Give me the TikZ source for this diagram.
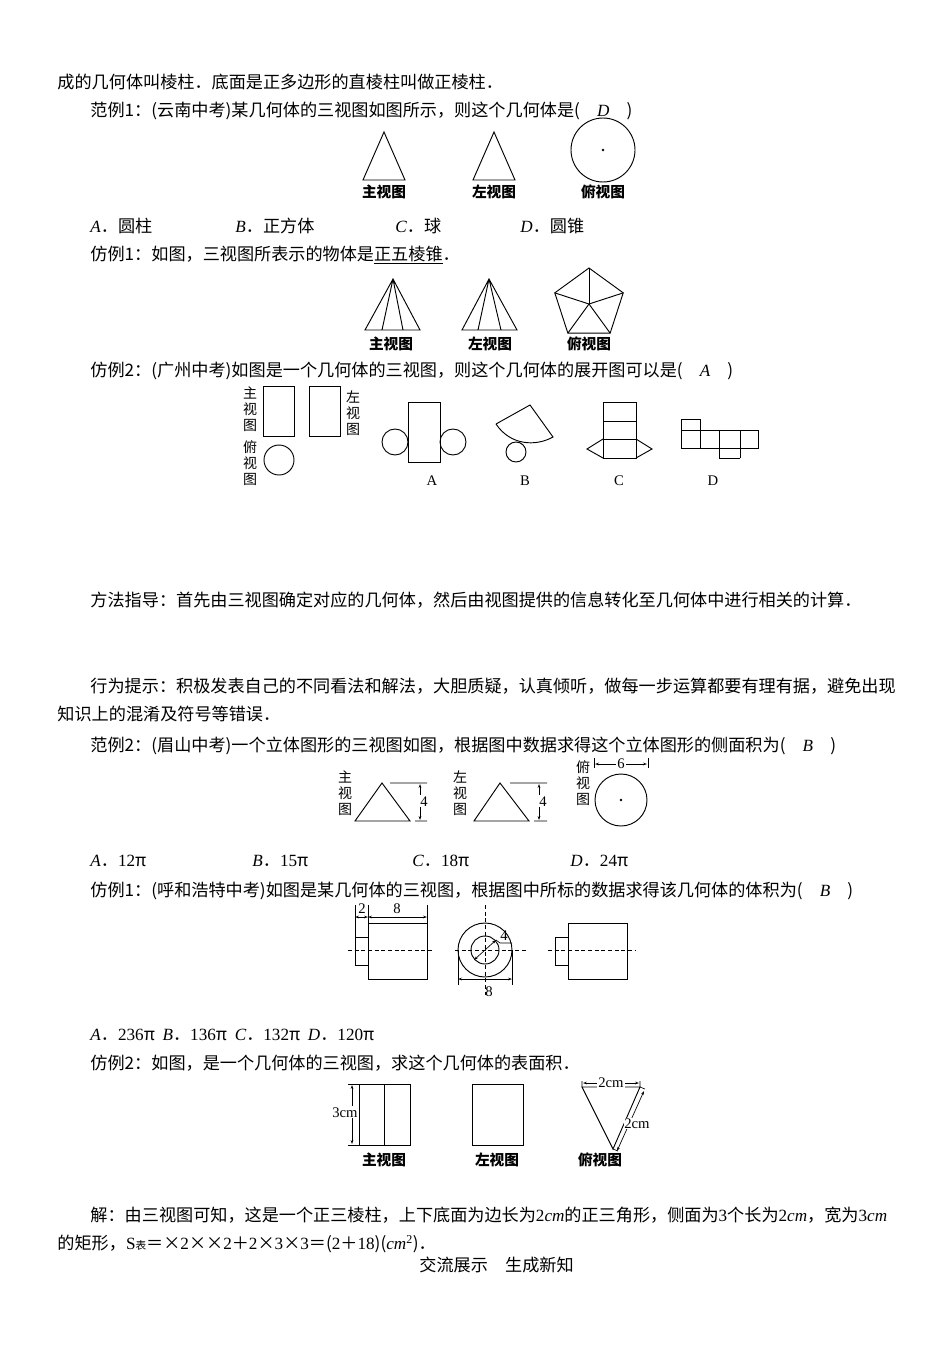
\documentclass[tikz,border=0pt]{standalone}
\usepackage{fontspec}
\setmainfont{Liberation Serif}
\newfontfamily\cjk{Noto Sans CJK SC}
\usetikzlibrary{arrows.meta}
\newcommand\en[1]{{\rmfamily #1}}
\newcommand\ei[1]{{\rmfamily\itshape #1}}
\begin{document}
\begin{tikzpicture}[x=0.75pt,y=-0.75pt,line width=0.7pt,
  t/.style={anchor=base west,inner sep=0,yshift=-4.5pt,font=\cjk\fontsize{12.85}{15}\selectfont},
  l/.style={anchor=base,inner sep=0,font=\cjk\fontsize{11}{13}\selectfont\bfseries},
  v/.style={anchor=north,inner sep=0,align=center,font=\cjk\fontsize{10.5}{12}\selectfont},
  n/.style={anchor=base,inner sep=0,font=\rmfamily\fontsize{11}{13}\selectfont},
  dim/.style={line width=0.5pt,{Stealth[length=3pt,width=2pt]}-{Stealth[length=3pt,width=2pt]}},
  cl/.style={line width=0.5pt,dash pattern=on 3pt off 2pt}]
\useasboundingbox (0,0) rectangle (950,1346);
% text lines
\node[t] (t1) at (57,82) {成的几何体叫棱柱．底面是正多边形的直棱柱叫做正棱柱．};
\node[t] (t2) at (90,110) {范例1：(云南中考)某几何体的三视图如图所示，则这个几何体是(\quad\ei{D}\quad)};
\node[t] (a1) at (90,226) {\ei{A}．圆柱};
\node[t] (b1) at (235,226) {\ei{B}．正方体};
\node[t] (c1) at (395,226) {\ei{C}．球};
\node[t] (d1) at (520,226) {\ei{D}．圆锥};
\node[t] (t3) at (90,254) {仿例1：如图，三视图所表示的物体是\underline{正五棱锥}．};
\node[t] (t4) at (90,370) {仿例2：(广州中考)如图是一个几何体的三视图，则这个几何体的展开图可以是(\quad\ei{A}\quad)};
\node[t] (t5) at (90,600) {方法指导：首先由三视图确定对应的几何体，然后由视图提供的信息转化至几何体中进行相关的计算．};
\node[t] (t6) at (90,686) {行为提示：积极发表自己的不同看法和解法，大胆质疑，认真倾听，做每一步运算都要有理有据，避免出现};
\node[t] (t7) at (57,714) {知识上的混淆及符号等错误．};
\node[t] (t8) at (90,745) {范例2：(眉山中考)一个立体图形的三视图如图，根据图中数据求得这个立体图形的侧面积为(\quad\ei{B}\quad)};
\node[t] (a2) at (90,860) {\ei{A}．\en{12}π};
\node[t] (b2) at (252,860) {\ei{B}．\en{15}π};
\node[t] (c2) at (412,860) {\ei{C}．\en{18}π};
\node[t] (d2) at (570,860) {\ei{D}．\en{24}π};
\node[t] (t9) at (90,890) {仿例1：(呼和浩特中考)如图是某几何体的三视图，根据图中所标的数据求得该几何体的体积为(\quad\ei{B}\quad)};
\node[t] (a3) at (90,1034) {\ei{A}．\en{236}π\ \ \ei{B}．\en{136}π\ \ \ei{C}．\en{132}π\ \ \ei{D}．\en{120}π};
\node[t] (t10) at (90,1063) {仿例2：如图，是一个几何体的三视图，求这个几何体的表面积．};
\node[t] (t11) at (90,1215) {解：由三视图可知，这是一个正三棱柱，上下底面为边长为\en{2}\ei{cm}的正三角形，侧面为\en{3}个长为\en{2}\ei{cm}，宽为\en{3}\ei{cm}};
\node[t] (t12) at (57,1243) {的矩形，\en{S}{\fontsize{8}{9}\selectfont 表}＝×\en{2}××\en{2}＋\en{2}×\en{3}×\en{3}＝(\en{2}＋\en{18})(\ei{cm}\textsuperscript{\en{2}})．};
\node[t] (t13) at (419,1265) {交流展示\quad 生成新知};
% figure 1
\draw (384,132) -- (363,180) -- (405,180) -- cycle;
\draw (494,132) -- (473,180) -- (515,180) -- cycle;
\draw (603,150) circle[radius=32];
\fill (603,150) circle[radius=1.3];
\node[l] at (384,197) {主视图};
\node[l] at (494,197) {左视图};
\node[l] at (603,197) {俯视图};
% figure 2 pyramids
\draw (393,279) -- (365,330) -- (420,330) -- cycle (393,279) -- (382,330) (393,279) -- (403,330);
\draw (489,279) -- (462,330) -- (517,330) -- cycle (489,279) -- (478,330) (489,279) -- (501,330);
\foreach \a in {-90,-162,-234,-306,-18} \draw (589,304) -- ++(\a:36);
\draw (589,304) ++(-90:36) -- ++(36:42.3) -- ++(108:42.3) -- ++(180:42.3) -- ++(252:42.3) -- cycle;
\node[l] at (391,349) {主视图};
\node[l] at (490,349) {左视图};
\node[l] at (589,349) {俯视图};
% figure 3
\node[v] at (250,386) {主\\视\\图};
\draw (263,386) rectangle (294,436) (309,386) rectangle (340,436);
\node[v] at (353,390) {左\\视\\图};
\node[v] at (250,440) {俯\\视\\图};
\draw (279,460) circle[radius=15];
\draw (408,402) rectangle (440,462);
\draw (395,442) circle[radius=13] (453,442) circle[radius=13];
\draw (496,424) -- (530,405) -- (553,437) .. controls (535,447) and (510,445) .. (496,424);
\draw (516,452) circle[radius=10];
\draw (603,402) rectangle (636,458) (603,421) -- (636,421) (603,439) -- (636,439);
\draw (603,439) -- (587,449) -- (603,458) (636,439) -- (652,449) -- (636,458);
\draw (681,419) rectangle (700,430) (681,430) rectangle (758,448);
\draw (700,430) -- (700,448) (719,430) -- (719,458) (740,430) -- (740,458) (719,458) -- (740,458);
\node[n] at (432,485) {A};
\node[n] at (525,485) {B};
\node[n] at (619,485) {C};
\node[n] at (713,485) {D};
% figure 4
\node[v] at (345,770) {主\\视\\图};
\draw (355,821) -- (382,783) -- (410,821) -- cycle (390,783) -- (427,783) (415,821) -- (427,821);
\draw[dim] (420,784) -- (420,820);
\node[n,fill=white,inner sep=1pt] at (424,806) {4};
\node[v] at (460,770) {左\\视\\图};
\draw (474,821) -- (500,783) -- (529,821) -- cycle (510,783) -- (547,783) (534,821) -- (547,821);
\draw[dim] (539,784) -- (539,820);
\node[n,fill=white,inner sep=1pt] at (543,806) {4};
\node[v] at (583,760) {俯\\视\\图};
\draw (621,800) circle[radius=26];
\fill (621,800) circle[radius=1.3];
\draw[dim] (595,764) -- (647,764);
\draw[line width=0.5pt] (594,758) -- (594,768) (648,758) -- (648,768);
\node[n,fill=white,inner sep=1pt] at (621,768) {6};
% figure 5
\draw (355,937) rectangle (368,965) (368,923) rectangle (427,979);
\draw[line width=0.5pt] (355,905) -- (355,937) (368,905) -- (368,923) (427,905) -- (427,923);
\draw[dim] (355,917) -- (368,917);
\draw[dim] (368,917) -- (427,917);
\node[n] at (362,913) {2};
\node[n] at (397,913) {8};
\draw[cl] (348,950) -- (432,950);
\draw (485,950) circle[radius=27] (485,950) circle[radius=14];
\draw[cl] (485,905) -- (485,995) (455,950) -- (527,950);
\draw[dim] (474,960) -- (496,940);
\draw[line width=0.5pt] (496,940) -- (500,943) -- (512,943);
\node[n] at (504,940) {4};
\draw[line width=0.5pt] (458,950) -- (458,985) (512,950) -- (512,985);
\draw[dim] (458,979) -- (512,979);
\node[n] at (489,996) {8};
\draw (555,937) rectangle (568,965) (568,923) rectangle (627,979);
\draw[cl] (548,950) -- (635,950);
% figure 6
\draw (359,1084) rectangle (410,1145) (384,1084) -- (384,1145);
\draw[line width=0.5pt] (348,1084) -- (359,1084) (348,1145) -- (359,1145);
\draw[dim] (352,1085) -- (352,1144);
\node[n,fill=white,inner sep=1pt] at (345,1117) {3cm};
\draw (472,1084) rectangle (523,1145);
\draw (582,1087) -- (640,1087) -- (613,1149) -- cycle;
\draw[line width=0.5pt] (582,1081) -- (582,1087) (640,1081) -- (640,1087) (640,1087) -- (645,1089) (613,1149) -- (618,1151);
\draw[dim] (583,1083) -- (639,1083);
\node[n,fill=white,inner sep=1pt] at (611,1087) {2cm};
\draw[dim] (644,1091) -- (617,1151);
\node[n,fill=white,inner sep=0.5pt] at (637,1128) {2cm};
\node[l] at (384,1165) {主视图};
\node[l] at (497,1165) {左视图};
\node[l] at (600,1165) {俯视图};
\end{tikzpicture}
\end{document}
